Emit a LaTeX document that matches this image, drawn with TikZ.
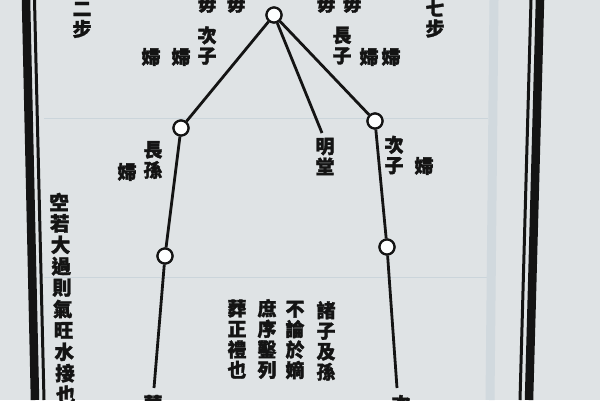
\documentclass[tikz,border=0pt]{standalone}
\usepackage{fontspec}
\newfontfamily\cjk{Noto Sans CJK TC}[FakeBold=1.6]
\definecolor{paper}{HTML}{DFE3E5}
\definecolor{ink}{HTML}{141414}
\definecolor{ghost}{HTML}{CBD5DB}
\tikzset{
  ch/.style={font=\cjk\bfseries\fontsize{19}{20.5}\selectfont, inner sep=0pt, text=ink, align=center},
  chl/.style={font=\cjk\bfseries\fontsize{19.5}{21.4}\selectfont, inner sep=0pt, text=ink, align=center},
  dot/.style={circle, draw=ink, fill=white!95!paper, line width=2.2pt, minimum size=15pt, inner sep=0pt},
  link/.style={draw=ink, line width=2.8pt},
  frameThick/.style={draw=ink, line width=8.5pt},
  frameThin/.style={draw=ink, line width=3pt}
}
\begin{document}
\begin{tikzpicture}[x=1pt,y=-1pt]
\useasboundingbox (0,0) rectangle (600,400);
\clip (0,0) rectangle (600,400);
\fill[paper] (0,0) rectangle (600,400);
% faint bleed-through marks
\draw[ghost, line width=1pt] (44,118) -- (488,118);
\draw[ghost, line width=1pt] (44,277) -- (488,277);
\draw[ghost!70!paper, line width=9pt] (494,0) -- (490,400);
% frame
\draw[frameThick] (26,0) -- (35,400);
\draw[frameThin] (34.5,0) -- (44,400);
\draw[frameThin] (531,0) -- (520,400);
\draw[frameThick] (540,0) -- (529,400);
% nodes
\node[dot] (T) at (274,15) {};
\node[dot] (L1) at (181,128) {};
\node[dot] (R1) at (375,121) {};
\node[dot] (L2) at (165,256) {};
\node[dot] (R2) at (387,247) {};
\coordinate (M) at (322,133);
\coordinate (LB) at (154,388);
\coordinate (RB) at (397,388);
% connectors
\draw[link] (T) -- (L1);
\draw[link] (L1) -- (L2);
\draw[link] (L2) -- (LB);
\draw[link] (T) -- (R1);
\draw[link] (R1) -- (R2);
\draw[link] (R2) -- (RB);
\draw[link] (T) -- (M);
% redraw circles on top
\node[dot] at (T) {};
\node[dot] at (L1) {};
\node[dot] at (R1) {};
\node[dot] at (L2) {};
\node[dot] at (R2) {};
% top texts
\node[ch] (m1) at (207,4) {毋};
\node[ch] (m2) at (236,4) {毋};
\node[ch] (m3) at (326,4) {毋};
\node[ch] (m4) at (352,4) {毋};
\node[ch] (er) at (82,20) {二\\步};
\node[ch] (qi) at (435,18.5) {七\\步};
\node[ch] (cz1) at (207,45.5) {次\\子};
\node[ch] (f1) at (151,57) {婦};
\node[ch] (f2) at (181,57) {婦};
\node[ch] (cz2) at (342,45.5) {長\\子};
\node[ch] (f3) at (369,57) {婦};
\node[ch] (f4) at (391,57) {婦};
\node[ch] (cs) at (153,160) {長\\孫};
\node[ch] (f5) at (127,172) {婦};
\node[ch] (mt) at (325,156.5) {明\\堂};
\node[ch] (cz3) at (394,155) {次\\子};
\node[ch] (f6) at (424,166) {婦};
% center columns
\node[ch] (c1) at (326,341) {諸\\子\\及\\孫};
\node[ch] (c2) at (295,340) {不\\論\\於\\嫡};
\node[ch] (c3) at (267,339) {庶\\序\\鑿\\列};
\node[ch] (c4) at (237,339) {葬\\正\\禮\\也};
% left column
\foreach \c [count=\i from 0] in {空,若,大,過,則,氣,旺,水,接,也}
  \node[chl] (lc\i) at (59+0.75*\i, 202+21.4*\i) {\c};
% bottom partial texts
\node[ch] (b1) at (153,404) {葬};
\node[ch] (b2) at (401,404) {次};
\end{tikzpicture}
\end{document}
